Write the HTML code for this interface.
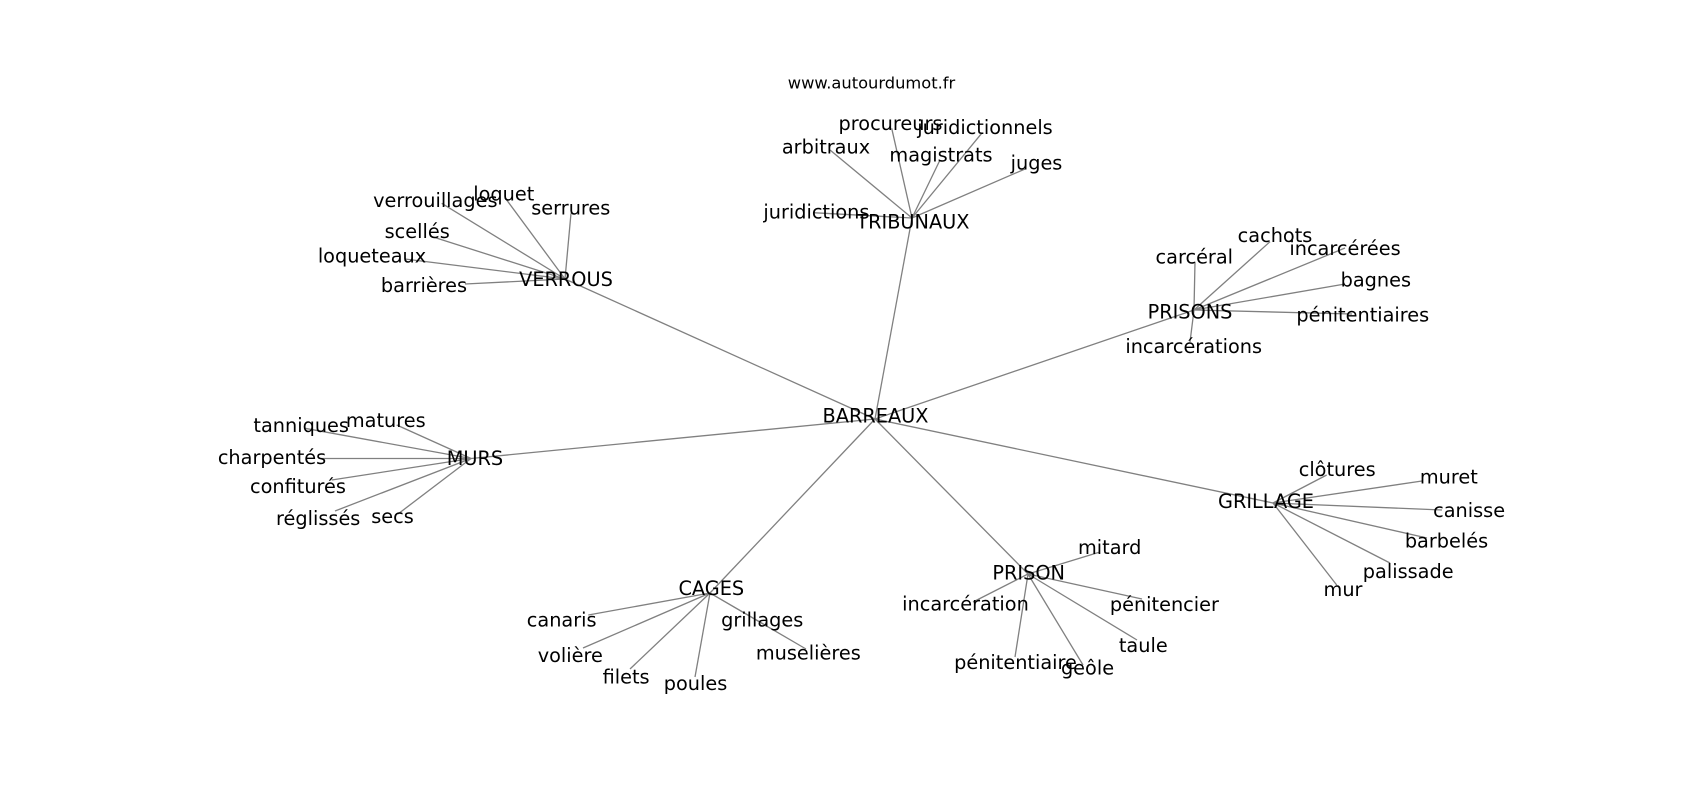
<!DOCTYPE html>
<html>
<head>
<meta charset="utf-8">
<style>
html,body{margin:0;padding:0;background:#fff;}
svg{display:block;}
text{font-family:"DejaVu Sans","Liberation Sans",sans-serif;fill:#000;text-anchor:middle;}
.l{font-size:19.3px;}
.t{font-size:16.3px;}
line{stroke:#808080;stroke-width:1.3;}
</style>
</head>
<body>
<svg width="1700" height="800" viewBox="0 0 1700 800" xmlns="http://www.w3.org/2000/svg">
<rect width="1700" height="800" fill="#fff"/>
<g>
<line x1="875" y1="419" x2="912" y2="218"/>
<line x1="875" y1="419" x2="565" y2="279"/>
<line x1="875" y1="419" x2="1194" y2="310"/>
<line x1="875" y1="419" x2="471" y2="458.5"/>
<line x1="875" y1="419" x2="710" y2="593"/>
<line x1="875" y1="419" x2="1028" y2="574"/>
<line x1="875" y1="419" x2="1273" y2="503"/>
<line x1="912" y1="218" x2="891.7" y2="128.3"/>
<line x1="912" y1="218" x2="830" y2="150"/>
<line x1="912" y1="218" x2="940" y2="160"/>
<line x1="912" y1="218" x2="981.7" y2="133.3"/>
<line x1="912" y1="218" x2="1025" y2="169"/>
<line x1="912" y1="218" x2="813" y2="212.7"/>
<line x1="565" y1="279" x2="441.7" y2="203.3"/>
<line x1="565" y1="279" x2="506.7" y2="200"/>
<line x1="565" y1="279" x2="571" y2="213.3"/>
<line x1="565" y1="279" x2="430" y2="236"/>
<line x1="565" y1="279" x2="405" y2="259"/>
<line x1="565" y1="279" x2="465" y2="284"/>
<line x1="1194" y1="310" x2="1195" y2="261.7"/>
<line x1="1194" y1="310" x2="1270" y2="241.7"/>
<line x1="1194" y1="310" x2="1345" y2="248"/>
<line x1="1194" y1="310" x2="1345" y2="284"/>
<line x1="1194" y1="310" x2="1352" y2="314"/>
<line x1="1194" y1="310" x2="1190" y2="342"/>
<line x1="471" y1="458.5" x2="305" y2="428.3"/>
<line x1="471" y1="458.5" x2="396.7" y2="425"/>
<line x1="471" y1="458.5" x2="321.7" y2="458.5"/>
<line x1="471" y1="458.5" x2="331.7" y2="480"/>
<line x1="471" y1="458.5" x2="335" y2="511"/>
<line x1="471" y1="458.5" x2="398" y2="514"/>
<line x1="710" y1="593" x2="588.3" y2="615"/>
<line x1="710" y1="593" x2="583" y2="648"/>
<line x1="710" y1="593" x2="630" y2="669"/>
<line x1="710" y1="593" x2="695" y2="677"/>
<line x1="710" y1="593" x2="765" y2="625"/>
<line x1="710" y1="593" x2="806" y2="649"/>
<line x1="1028" y1="574" x2="1100" y2="552"/>
<line x1="1028" y1="574" x2="973" y2="602"/>
<line x1="1028" y1="574" x2="1142" y2="599"/>
<line x1="1028" y1="574" x2="1137" y2="640"/>
<line x1="1028" y1="574" x2="1083" y2="665"/>
<line x1="1028" y1="574" x2="1015" y2="657"/>
<line x1="1273" y1="503" x2="1326.7" y2="475"/>
<line x1="1273" y1="503" x2="1422" y2="481"/>
<line x1="1273" y1="503" x2="1442" y2="510"/>
<line x1="1273" y1="503" x2="1427" y2="538"/>
<line x1="1273" y1="503" x2="1390" y2="563"/>
<line x1="1273" y1="503" x2="1336.7" y2="585"/>
</g>

<text class="t" x="871.5" y="88.3">www.autourdumot.fr</text>

<g>
<text class="l" x="875.5" y="422.7">BARREAUX</text>

<text class="l" x="912.9" y="228.5">TRIBUNAUX</text>
<text class="l" x="890.5" y="130">procureurs</text>
<text class="l" x="985" y="134">juridictionnels</text>
<text class="l" x="826" y="153.3">arbitraux</text>
<text class="l" x="941" y="161.5">magistrats</text>
<text class="l" x="1036.5" y="169.5">juges</text>
<text class="l" x="816.4" y="218.3">juridictions</text>

<text class="l" x="566" y="286">VERROUS</text>
<text class="l" x="435.3" y="207">verrouillages</text>
<text class="l" x="503.8" y="200.5">loquet</text>
<text class="l" x="570.8" y="214.5">serrures</text>
<text class="l" x="417.2" y="238">scellés</text>
<text class="l" x="372" y="262.5">loqueteaux</text>
<text class="l" x="424" y="292">barrières</text>

<text class="l" x="1190" y="318.3">PRISONS</text>
<text class="l" x="1194.3" y="263.5">carcéral</text>
<text class="l" x="1275" y="242">cachots</text>
<text class="l" x="1345" y="255.2">incarcérées</text>
<text class="l" x="1375.8" y="286.6">bagnes</text>
<text class="l" x="1362.8" y="321.3">pénitentiaires</text>
<text class="l" x="1193.7" y="352.8">incarcérations</text>

<text class="l" x="474.9" y="465">MURS</text>
<text class="l" x="385.8" y="427">matures</text>
<text class="l" x="301.2" y="431.8">tanniques</text>
<text class="l" x="272" y="464">charpentés</text>
<text class="l" x="298" y="493">confiturés</text>
<text class="l" x="318.2" y="525.1">réglissés</text>
<text class="l" x="392.5" y="523">secs</text>

<text class="l" x="711.3" y="595">CAGES</text>
<text class="l" x="561.7" y="626.5">canaris</text>
<text class="l" x="762.2" y="626.5">grillages</text>
<text class="l" x="570.3" y="661.8">volière</text>
<text class="l" x="808.3" y="659.6">muselières</text>
<text class="l" x="626.1" y="683.4">filets</text>
<text class="l" x="695.5" y="689.9">poules</text>

<text class="l" x="1028.7" y="579.3">PRISON</text>
<text class="l" x="1109.7" y="554">mitard</text>
<text class="l" x="965.5" y="610.5">incarcération</text>
<text class="l" x="1164.4" y="610.8">pénitencier</text>
<text class="l" x="1143.3" y="652">taule</text>
<text class="l" x="1015.5" y="669">pénitentiaire</text>
<text class="l" x="1087.5" y="674.5">geôle</text>

<text class="l" x="1266" y="508">GRILLAGE</text>
<text class="l" x="1337.2" y="476">clôtures</text>
<text class="l" x="1448.8" y="483.5">muret</text>
<text class="l" x="1469.1" y="517">canisse</text>
<text class="l" x="1446.5" y="547.5">barbelés</text>
<text class="l" x="1408.2" y="578">palissade</text>
<text class="l" x="1343" y="596">mur</text>
</g>
</svg>
</body>
</html>
